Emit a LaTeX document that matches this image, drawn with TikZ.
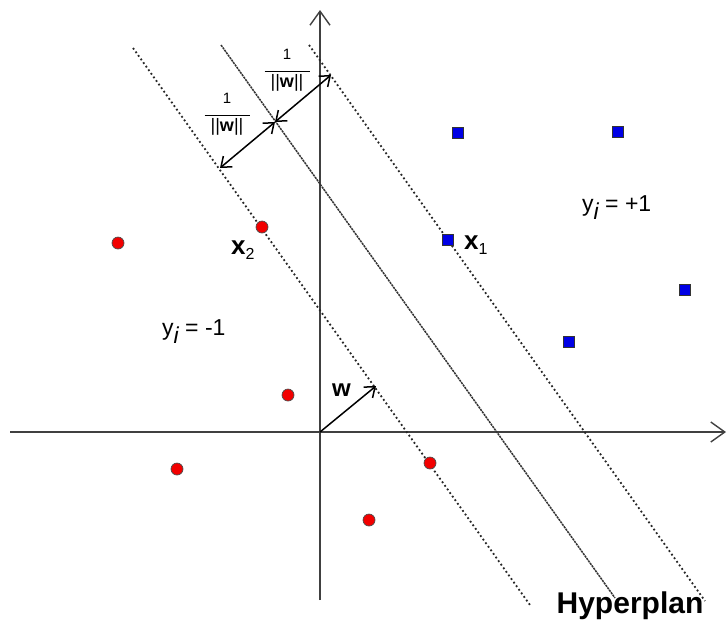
\documentclass[tikz,border=0pt]{standalone}
\usepackage{fontspec}
\setmainfont{Liberation Sans}
\usetikzlibrary{arrows.meta}
\tikzset{
  axis/.style={draw=black!75, line width=1.6pt, -{Straight Barb[length=14pt,width=20pt,line width=1.4pt]}},
  margin/.style={draw=black!85, line width=1.8pt, dash pattern=on 1.8pt off 2.6pt},
  hyper/.style={draw=black!80, line width=1.5pt, dash pattern=on 2.2pt off 0.8pt},
  dist/.style={draw=black, line width=1.5pt, {Straight Barb[length=9pt,width=14pt]}-{Straight Barb[length=9pt,width=14pt]}},
  wvec/.style={draw=black, line width=1.5pt, -{Straight Barb[length=9pt,width=14pt]}},
  negpt/.style={circle, draw=black!70, fill=red!95!black, inner sep=0pt, minimum size=12pt, line width=0.7pt},
  pospt/.style={rectangle, draw=black!80, fill=blue!90!black, inner sep=0pt, minimum size=11pt, line width=0.7pt},
  lbl/.style={inner sep=0pt, font=\fontsize{23}{25}\selectfont},
  blbl/.style={inner sep=0pt, font=\fontsize{26}{28}\selectfont\bfseries},
  fraclbl/.style={inner sep=0pt, align=center, font=\fontsize{15}{16}\selectfont}
}
\begin{document}
\begin{tikzpicture}[x=1pt,y=-1pt]
\useasboundingbox (0,0) rectangle (727,619);
% axes
\coordinate (xs) at (10,432);
\coordinate (xe) at (726,432);
\coordinate (ys) at (320,600);
\coordinate (ye) at (320,10);
\coordinate (o) at (320,432);
\draw[axis] (xs) -- (xe);
\draw[axis] (ys) -- (ye);
% margin lines and hyperplane
\coordinate (l1) at (133,48); \coordinate (l2) at (530,605);
\coordinate (h1) at (221,45); \coordinate (h2) at (615,598);
\coordinate (r1) at (309,45); \coordinate (r2) at (705,601);
\draw[margin] (l1) -- (l2);
\draw[hyper] (h1) -- (h2);
\draw[margin] (r1) -- (r2);
% distance arrows
\coordinate (da) at (220,168);
\coordinate (db) at (275,122);
\coordinate (dc) at (331,75);
\draw[dist] (da) -- (db);
\draw[dist] (db) -- (dc);
% w vector
\coordinate (wt) at (376,386);
\draw[wvec] (o) -- (wt);
% points
\node[negpt] (n1) at (118,243) {};
\node[negpt] (n2) at (262,227) {};
\node[negpt] (n3) at (288,395) {};
\node[negpt] (n4) at (177,469) {};
\node[negpt] (n5) at (430,463) {};
\node[negpt] (n6) at (369,520) {};
\node[pospt] (p1) at (458,133) {};
\node[pospt] (p2) at (618,132) {};
\node[pospt] (p3) at (448,240) {};
\node[pospt] (p4) at (685,290) {};
\node[pospt] (p5) at (569,342) {};
% labels
\node[blbl, anchor=base west] (x2) at (231,254) {x\raisebox{-5pt}{\fontsize{16}{16}\mdseries\selectfont 2}};
\node[blbl, anchor=base west] (x1) at (464,249) {x\raisebox{-5pt}{\fontsize{16}{16}\mdseries\selectfont 1}};
\node[lbl, anchor=base west] (yp) at (582,211) {y\raisebox{-8pt}{\itshape i} = +1};
\node[lbl, anchor=base west] (yn) at (162,335) {y\raisebox{-8pt}{\itshape i} = -1};
\node[blbl, anchor=base west, font=\fontsize{24}{26}\selectfont\bfseries] (wl) at (332,396) {w};
\node[blbl, anchor=base, font=\fontsize{30}{32}\selectfont\bfseries] (hp) at (630,613) {Hyperplan};
\node[fraclbl] (f1) at (287,70) {1\\[-3pt]\rule{45pt}{0.9pt}\\[-1pt]{\fontsize{18}{19}\selectfont ||\textbf{w}||}};
\node[fraclbl] (f2) at (227,114) {1\\[-3pt]\rule{45pt}{0.9pt}\\[-1pt]{\fontsize{18}{19}\selectfont ||\textbf{w}||}};
\end{tikzpicture}
\end{document}
